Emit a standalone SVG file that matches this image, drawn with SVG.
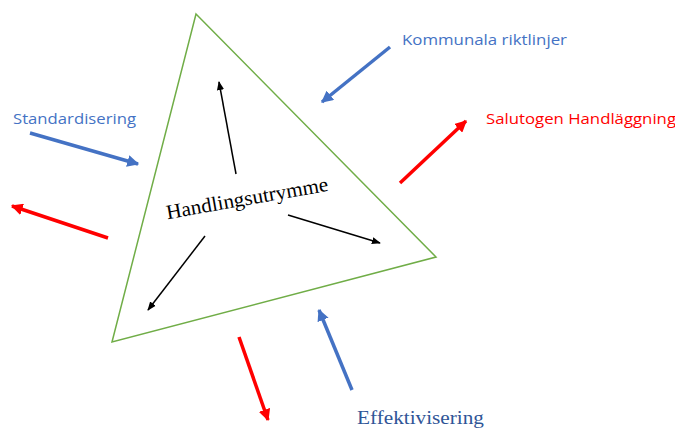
<svg xmlns="http://www.w3.org/2000/svg" width="675" height="430" viewBox="0 0 675 430">
<style>
.lbl{font-family:"Open Sans","Liberation Sans",sans-serif;font-size:15px}
.blue{stroke:#4472C4;stroke-width:3.5;fill:none}
.red{stroke:#FF0000;stroke-width:3.5;fill:none}
.blk{stroke:#000;stroke-width:1.5;fill:none}
</style>
<defs>
<marker id="ab" viewBox="0 0 10 10" refX="9" refY="5" markerWidth="3.4" markerHeight="3.4" orient="auto" markerUnits="strokeWidth"><path d="M0,0L10,5L0,10z" fill="#4472C4"/></marker>
<marker id="ar" viewBox="0 0 10 10" refX="9" refY="5" markerWidth="3.4" markerHeight="3.4" orient="auto" markerUnits="strokeWidth"><path d="M0,0L10,5L0,10z" fill="#FF0000"/></marker>
<marker id="ak" viewBox="0 0 10 10" refX="9" refY="5" markerWidth="6" markerHeight="6" orient="auto" markerUnits="strokeWidth"><path d="M0,1L10,5L0,9z" fill="#000"/></marker>
</defs>
<rect width="675" height="430" fill="#fff"/>
<g id="triangle">
<polygon points="196,14 436,257 112,342" fill="none" stroke="#70AD47" stroke-width="1.5"/>
<text x="247" y="205" transform="rotate(-10 247 198)" text-anchor="middle" font-family="Liberation Serif,serif" font-size="20.5" fill="#000" textLength="164" lengthAdjust="spacingAndGlyphs">Handlingsutrymme</text>
</g>
<g id="labels">
<text class="lbl" x="13" y="124" fill="#4472C4" textLength="123" lengthAdjust="spacingAndGlyphs">Standardisering</text>
<text class="lbl" x="402" y="45" fill="#4472C4" textLength="165" lengthAdjust="spacingAndGlyphs">Kommunala riktlinjer</text>
<text class="lbl" x="486" y="124" fill="#FF0000" textLength="190" lengthAdjust="spacingAndGlyphs">Salutogen Handläggning</text>
<text x="357" y="424" font-family="Liberation Serif,serif" font-size="19.5" fill="#2F5597" textLength="127" lengthAdjust="spacingAndGlyphs">Effektivisering</text>
</g>
<g id="connectors">
<line class="blk" x1="236" y1="174" x2="219" y2="82" marker-end="url(#ak)"/>
<line class="blk" x1="288" y1="215" x2="380" y2="243" marker-end="url(#ak)"/>
<line class="blk" x1="205" y1="236" x2="148" y2="310" marker-end="url(#ak)"/>
<line class="blue" x1="30" y1="133" x2="138" y2="164" marker-end="url(#ab)"/>
<line class="blue" x1="390" y1="47" x2="322" y2="102" marker-end="url(#ab)"/>
<line class="blue" x1="352" y1="390" x2="319" y2="310" marker-end="url(#ab)"/>
<line class="red" x1="108" y1="238" x2="12" y2="206" marker-end="url(#ar)"/>
<line class="red" x1="400" y1="183" x2="466" y2="121" marker-end="url(#ar)"/>
<line class="red" x1="239" y1="337" x2="268" y2="420" marker-end="url(#ar)"/>
</g>
</svg>
